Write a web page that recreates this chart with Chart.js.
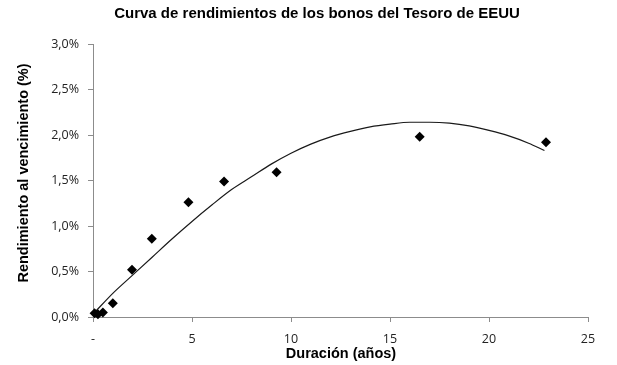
<!DOCTYPE html>
<html>
<head>
<meta charset="utf-8">
<script src="https://cdn.jsdelivr.net/npm/chart.js@4.4.1/dist/chart.umd.min.js"></script>
<style>
  html, body { margin: 0; padding: 0; background: #ffffff; }
  #wrap { width: 617px; height: 365px; position: relative; }
</style>
</head>
<body>
<div id="wrap"><canvas id="c" width="617" height="365"></canvas></div>
<script>
// Observed bonds: duration (years) and yield to maturity (%)
const duration = [0.08, 0.25, 0.5, 1.0, 1.97, 2.97, 4.82, 6.62, 9.27, 16.5, 22.88];
const yieldPct = [0.04, 0.03, 0.05, 0.15, 0.52, 0.86, 1.26, 1.49, 1.59, 1.98, 1.92];

// Trend curve
const trendX = [0.08, 1, 2, 3, 4, 5, 6, 7, 8, 9, 10, 11, 12, 13, 14, 15, 16, 17, 18, 19, 20, 21, 22, 22.8];
const trendY = [0.05, 0.26, 0.46, 0.66, 0.86, 1.05, 1.23, 1.40, 1.54, 1.68, 1.80, 1.90, 1.98, 2.04, 2.09, 2.12, 2.14, 2.14, 2.13, 2.10, 2.05, 1.99, 1.91, 1.83];

const yTicks = [0, 0.5, 1.0, 1.5, 2.0, 2.5, 3.0];
const xTicks = [0, 5, 10, 15, 20, 25];

const chartTitle = 'Curva de rendimientos de los bonos del Tesoro de EEUU';
const xTitle = 'Duración (años)';
const yTitle = 'Rendimiento al vencimiento (%)';

const pts = duration.map((d, i) => ({ x: d, y: yieldPct[i] }));
const trend = trendX.map((d, i) => ({ x: d, y: trendY[i] }));

const titlesPlugin = {
  id: 'titles',
  afterDraw(chart) {
    const ctx = chart.ctx;
    ctx.save();
    ctx.fillStyle = '#000000';
    ctx.textAlign = 'center';
    ctx.textBaseline = 'middle';
    ctx.font = 'bold 15px "Liberation Sans", Arial, sans-serif';
    ctx.fillText(chartTitle, 317, 14);
    ctx.font = 'bold 14.5px "Liberation Sans", Arial, sans-serif';
    ctx.fillText(xTitle, 341, 354);
    ctx.translate(24, 173);
    ctx.rotate(-Math.PI / 2);
    ctx.fillText(yTitle, 0, 0);
    ctx.restore();
  }
};

const axisColor = '#8c8c8c';
const tickFont = { family: '"Open Sans", "Liberation Sans", sans-serif', size: 12.5 };

new Chart(document.getElementById('c'), {
  data: {
    datasets: [
      {
        type: 'line',
        data: trend,
        borderColor: '#1a1a1a',
        borderWidth: 1.2,
        pointRadius: 0,
        cubicInterpolationMode: 'monotone',
        fill: false,
        order: 2
      },
      {
        type: 'scatter',
        data: pts,
        pointStyle: 'rectRot',
        pointRadius: 5,
        backgroundColor: '#000000',
        borderColor: '#000000',
        borderWidth: 0,
        clip: false,
        order: 1
      }
    ]
  },
  options: {
    responsive: false,
    animation: false,
    events: [],
    layout: { padding: { top: 44, right: 29, bottom: 0, left: 0 } },
    plugins: {
      legend: { display: false },
      title: { display: false },
      tooltip: { enabled: false }
    },
    scales: {
      x: {
        type: 'linear',
        min: 0,
        max: 25,
        afterBuildTicks(scale) { scale.ticks = xTicks.map(v => ({ value: v })); },
        afterFit(scale) { scale.height = 48; },
        border: { color: axisColor, width: 1 },
        grid: { drawOnChartArea: false, drawTicks: true, tickLength: 5, color: axisColor },
        ticks: {
          color: '#222222',
          font: tickFont,
          padding: 10,
          maxRotation: 0,
          callback: v => (v === 0 ? '-' : String(v))
        }
      },
      y: {
        type: 'linear',
        min: 0,
        max: 3,
        afterBuildTicks(scale) { scale.ticks = yTicks.map(v => ({ value: v })); },
        afterFit(scale) { scale.width = 93; },
        border: { color: axisColor, width: 1 },
        grid: { drawOnChartArea: false, drawTicks: true, tickLength: 5, color: axisColor },
        ticks: {
          color: '#222222',
          font: tickFont,
          padding: 9,
          callback: v => v.toFixed(1).replace('.', ',') + '%'
        }
      }
    }
  },
  plugins: [titlesPlugin]
});
</script>
</body>
</html>
